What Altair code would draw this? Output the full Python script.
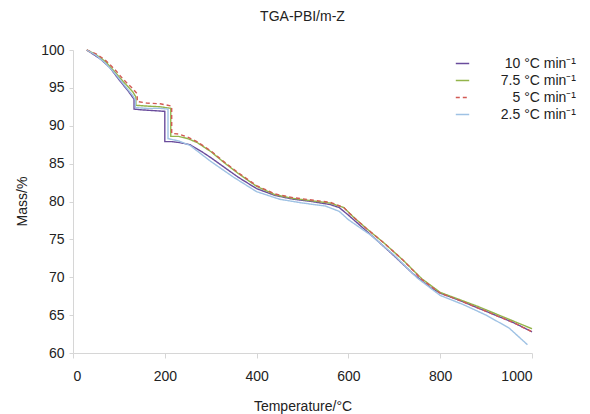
import altair as alt
import pandas as pd

series_names = ["10 °C min⁻¹", "7.5 °C min⁻¹", "5 °C min⁻¹", "2.5 °C min⁻¹"]
colors = ["#6a4c9c", "#93b44a", "#d25a55", "#9fc2e4"]
dashes = [[1, 0], [1, 0], [4, 3], [1, 0]]

t_10 = [30, 45, 60, 80, 100, 120, 133, 133, 150, 175, 200, 200, 215, 230, 255, 280, 300, 330, 360, 400,
        440, 480, 520, 560, 580, 600, 630, 660, 700, 740, 780, 800, 840, 880, 920, 960, 1000]
m_10 = [100, 99.4, 98.8, 97.7, 96.1, 94.6, 93.5, 92.2, 92.1, 92.0, 91.9, 87.9, 87.9, 87.8, 87.5, 86.6, 85.8, 84.5, 83.2, 81.7,
        80.8, 80.3, 80.0, 79.6, 79.2, 78.2, 76.6, 75.0, 72.8, 70.5, 68.6, 67.9, 67.0, 66.0, 65.0, 64.0, 62.8]

t_75 = [30, 50, 70, 90, 110, 130, 137, 137, 160, 190, 213, 213, 230, 250, 270, 300, 330, 360, 400, 440,
        480, 520, 560, 590, 610, 640, 680, 720, 760, 800, 840, 880, 920, 960, 1000]
m_75 = [100, 99.4, 98.5, 97.2, 95.8, 94.5, 93.8, 92.7, 92.6, 92.5, 92.3, 88.6, 88.6, 88.3, 87.8, 86.6, 85.1, 83.7, 82.0, 80.9,
        80.4, 80.1, 79.8, 79.2, 78.0, 76.4, 74.4, 72.2, 69.8, 68.0, 67.1, 66.2, 65.2, 64.2, 63.2]

t_5 = [30, 50, 70, 90, 110, 130, 140, 140, 160, 190, 215, 215, 230, 250, 270, 300, 330, 360, 400, 440,
       480, 520, 560, 590, 610, 640, 680, 720, 760, 800, 840, 880, 920, 960, 1000]
m_5 = [100, 99.5, 98.7, 97.5, 96.1, 94.9, 94.2, 93.2, 93.0, 92.9, 92.6, 89.0, 88.9, 88.5, 87.9, 86.7, 85.2, 83.8, 82.1, 81.0,
       80.5, 80.2, 79.9, 79.2, 78.0, 76.4, 74.4, 72.2, 69.7, 67.9, 67.0, 66.0, 65.0, 64.0, 62.8]

t_25 = [30, 50, 70, 90, 110, 130, 136, 136, 160, 190, 207, 207, 230, 255, 300, 350, 400, 450, 500, 550,
        580, 600, 650, 700, 750, 800, 850, 900, 950, 990]
m_25 = [100, 99.3, 98.3, 97.0, 95.5, 94.0, 93.4, 92.4, 92.3, 92.3, 92.2, 88.3, 88.0, 87.4, 85.3, 83.2, 81.3, 80.3, 79.8, 79.4,
        78.7, 77.6, 75.5, 72.9, 69.9, 67.6, 66.4, 65.0, 63.3, 61.1]

x_ticks = [0, 200, 400, 600, 800, 1000]
y_ticks = [60, 65, 70, 75, 80, 85, 90, 95, 100]

rows = []
for name, ts, ms in zip(series_names, [t_10, t_75, t_5, t_25], [m_10, m_75, m_5, m_25]):
    for i, (t, m) in enumerate(zip(ts, ms)):
        rows.append({"series": name, "T": t, "M": m, "order": i})
df = pd.DataFrame(rows)

font = "Liberation Sans"
fs = 14

chart = alt.Chart(df).mark_line(strokeWidth=1.4).encode(
    x=alt.X("T:Q", scale=alt.Scale(domain=[0, 1000], nice=False),
            axis=alt.Axis(values=x_ticks, format="d", title="Temperature/°C",
                          grid=False, tickSize=5, labelPadding=11, domainColor="#d6d6d6",
                          tickColor="#d6d6d6", labelColor="#222222", labelFontSize=fs,
                          titleFontSize=fs, titleFontWeight="normal", titleColor="#222222",
                          labelFont=font, titleFont=font, titleY=57, titleBaseline="alphabetic")),
    y=alt.Y("M:Q", scale=alt.Scale(domain=[60, 100], nice=False, zero=False),
            axis=alt.Axis(values=y_ticks, format="d", title="Mass/%",
                          grid=False, tickSize=4, labelPadding=5, domainColor="#d6d6d6",
                          tickColor="#d6d6d6", labelColor="#222222", labelFontSize=fs,
                          titleFontSize=fs, titleFontWeight="normal", titleColor="#222222",
                          labelFont=font, titleFont=font, titleX=-51, titleY=151,
                          titleAngle=-90, titleBaseline="middle", titleAlign="center")),
    color=alt.Color("series:N", title=None,
                    scale=alt.Scale(domain=series_names, range=colors),
                    legend=alt.Legend(orient="none", legendX=382, legendY=6, labelFont=font,
                                      labelFontSize=fs, labelColor="#222222", symbolType="stroke",
                                      symbolSize=180, symbolStrokeWidth=1.5, rowPadding=2,
                                      labelAlign="right", labelOffset=106)),
    strokeDash=alt.StrokeDash("series:N", title=None,
                              scale=alt.Scale(domain=series_names, range=dashes)),
    order="order:Q",
    detail="series:N",
).properties(
    width=459,
    height=303,
    title=alt.TitleParams("TGA-PBI/m-Z", font=font, fontSize=fs, fontWeight="normal",
                          color="#222222", anchor="middle", offset=19),
    padding={"left": 73, "top": 50, "right": 58, "bottom": 61},
    autosize=alt.AutoSizeParams(type="none"),
).configure_view(stroke=None)

chart.save("out.html", embed_options={"renderer": "svg", "actions": False})
